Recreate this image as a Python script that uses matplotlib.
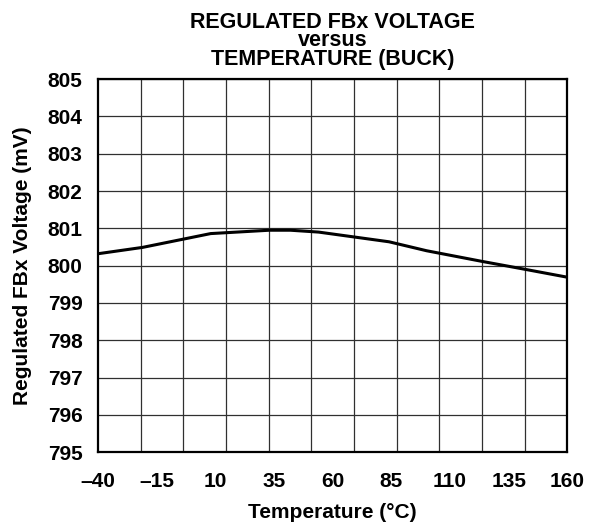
import matplotlib
matplotlib.use("Agg")
import matplotlib.pyplot as plt
import numpy as np

plt.rcParams['font.family'] = ['Liberation Sans', 'DejaVu Sans']
plt.rcParams['font.weight'] = 'bold'

# date
temp = [-40, -21, 8, 33, 42, 54, 84, 100, 124, 143, 160]
volt = [800.32, 800.49, 800.86, 800.95, 800.95, 800.90, 800.64, 800.40, 800.11, 799.89, 799.69]

x_ticks = [-40, -15, 10, 35, 60, 85, 110, 135, 160]
x_labels = ['–40', '–15', '10', '35', '60', '85', '110', '135', '160']
y_ticks = [795, 796, 797, 798, 799, 800, 801, 802, 803, 804, 805]


def plot_fbx():
    fig = plt.figure(figsize=(5.89, 5.24), dpi=100)
    ax = fig.add_axes([0.1664, 0.137, 0.797, 0.712])

    ax.plot(temp, volt, color='black', linewidth=2.2, zorder=3)

    ax.set_xlim(-40, 160)
    ax.set_ylim(795, 805)
    ax.set_xticks(x_ticks)
    ax.set_xticklabels(x_labels)
    ax.set_yticks(y_ticks)
    # grila verticala are 11 intervale, nu e aliniata cu etichetele
    ax.set_xticks(np.linspace(-40, 160, 12), minor=True)
    ax.grid(False, axis='x', which='major')
    ax.grid(True, axis='x', which='minor', color='#303030', linewidth=0.9)
    ax.grid(True, axis='y', which='major', color='#303030', linewidth=0.9)
    ax.tick_params(which='both', length=0)
    ax.tick_params(axis='x', pad=14, labelsize=15)
    ax.tick_params(axis='y', pad=11, labelsize=15)

    for s in ax.spines.values():
        s.set_linewidth(1.6)

    ax.set_xlabel('Temperature (°C)', fontsize=15, fontweight='bold', labelpad=9)
    ax.set_ylabel('Regulated FBx Voltage (mV)', fontsize=15, fontweight='bold', labelpad=11)
    ax.set_title('REGULATED FBx VOLTAGE\nversus\nTEMPERATURE (BUCK)',
                 fontsize=15.5, fontweight='bold', linespacing=0.86, pad=10)

    fig.savefig('out.png', dpi=100)


if __name__ == "__main__":
    plot_fbx()
